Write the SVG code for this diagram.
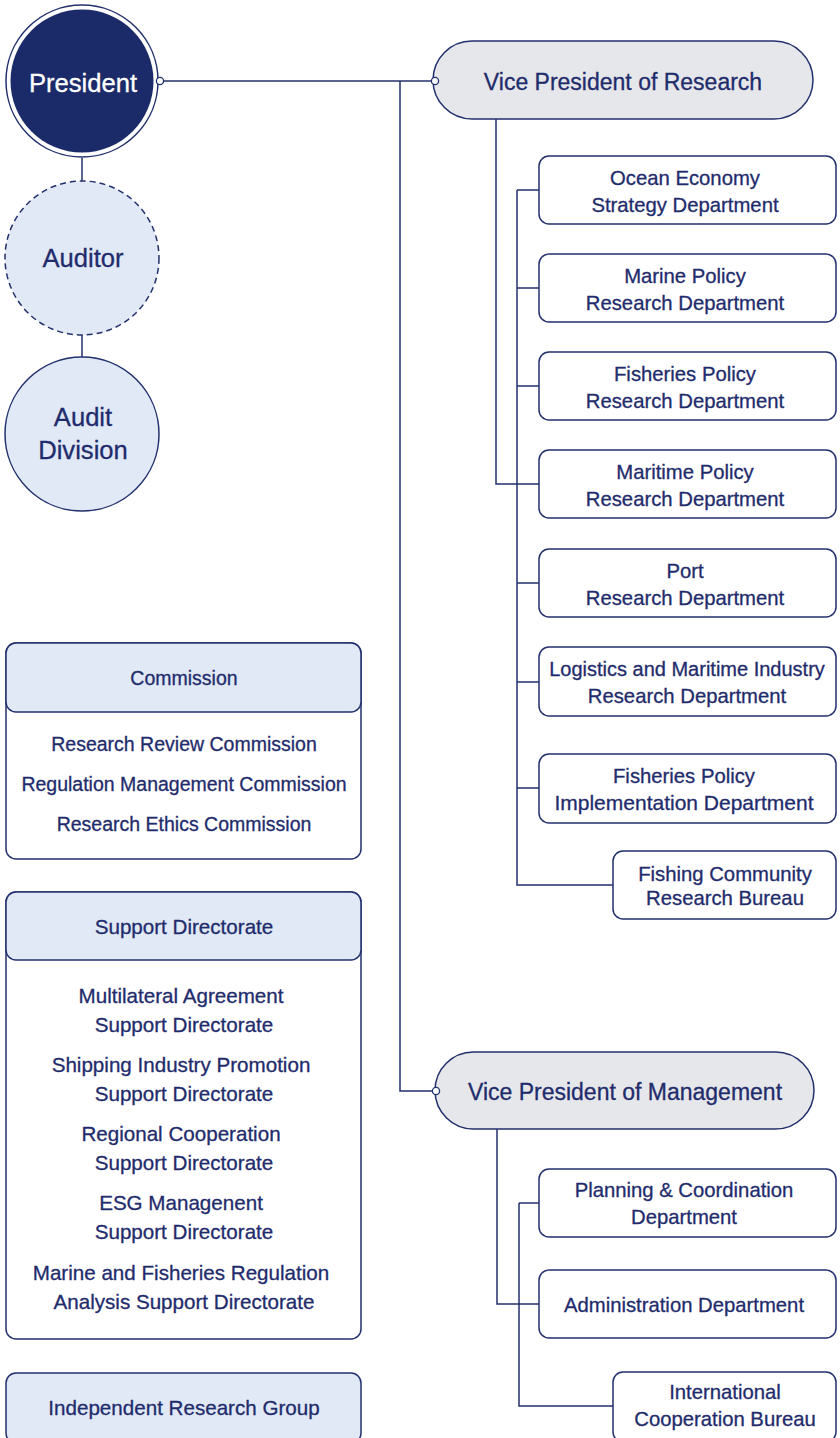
<svg xmlns="http://www.w3.org/2000/svg" width="840" height="1438" viewBox="0 0 840 1438">
<style>
.ln{fill:none;stroke:#22316d;stroke-width:1.5}
.dept{fill:#ffffff;stroke:#22316d;stroke-width:1.5}
.pill{fill:#e6e7ea;stroke:#22316d;stroke-width:1.5}
.lb{fill:#e1e9f6;stroke:#22316d;stroke-width:1.5}
.dot{fill:#ffffff;stroke:#22316d;stroke-width:1.3}
text{font-family:"Liberation Sans",Arial,sans-serif;fill:#1f2c6c;stroke:#1f2c6c;stroke-width:0.3;text-anchor:middle}
.t20{font-size:20.3px}
.t19{font-size:19.5px}
.t205{font-size:20.6px}
.t23{font-size:23px}
.t25{font-size:25.6px}
</style>
<rect width="840" height="1438" fill="#ffffff"/>
<g id="connectors">
<path class="ln" d="M163 81H432"/>
<path class="ln" d="M400 81V1091H432"/>
<path class="ln" d="M82 158V181"/>
<path class="ln" d="M82 334V357"/>
<path class="ln" d="M496 119V484H539"/>
<path class="ln" d="M517 190V885H613"/>
<path class="ln" d="M517 190H539M517 288H539M517 386H539M517 583H539M517 682H539M517 788H539"/>
<path class="ln" d="M497 1129V1304H539"/>
<path class="ln" d="M519 1203V1406H613"/>
<path class="ln" d="M519 1203H539"/>
</g>
<g id="president">
<circle cx="82" cy="81" r="76" fill="#ffffff" stroke="#22316d" stroke-width="1.5"/>
<circle cx="82" cy="81" r="71.5" fill="#1b2a68"/>
<text class="t25" x="83" y="92" style="fill:#ffffff;stroke:#ffffff">President</text>
<circle class="dot" cx="160" cy="81" r="3.6"/>
</g>
<g id="auditor">
<circle cx="82" cy="258" r="77" fill="#e1e9f6" stroke="#22316d" stroke-width="1.5" stroke-dasharray="6 4"/>
<text class="t25" x="83" y="267">Auditor</text>
</g>
<g id="audit-division">
<circle cx="82" cy="434" r="77" fill="#e1e9f6" stroke="#22316d" stroke-width="1.5"/>
<text class="t25" x="83" y="426">Audit</text>
<text class="t25" x="83" y="459">Division</text>
</g>
<g id="vp-research">
<rect class="pill" x="433" y="41" width="380" height="78" rx="39"/>
<text class="t23" x="623" y="90">Vice President of Research</text>
<circle class="dot" cx="435" cy="81" r="3.6"/>
</g>
<g id="ocean-economy">
<rect class="dept" x="539" y="156" width="297" height="68" rx="10"/>
<text class="t20" x="685" y="185">Ocean Economy</text>
<text class="t20" x="685" y="212">Strategy Department</text>
</g>
<g id="marine-policy">
<rect class="dept" x="539" y="254" width="297" height="68" rx="10"/>
<text class="t20" x="685" y="283">Marine Policy</text>
<text class="t20" x="685" y="310">Research Department</text>
</g>
<g id="fisheries-policy">
<rect class="dept" x="539" y="352" width="297" height="68" rx="10"/>
<text class="t20" x="685" y="381">Fisheries Policy</text>
<text class="t20" x="685" y="408">Research Department</text>
</g>
<g id="maritime-policy">
<rect class="dept" x="539" y="450" width="297" height="68" rx="10"/>
<text class="t20" x="685" y="479">Maritime Policy</text>
<text class="t20" x="685" y="506">Research Department</text>
</g>
<g id="port">
<rect class="dept" x="539" y="549" width="297" height="68" rx="10"/>
<text class="t20" x="685" y="578">Port</text>
<text class="t20" x="685" y="605">Research Department</text>
</g>
<g id="logistics">
<rect class="dept" x="539" y="647" width="297" height="69" rx="10"/>
<text class="t20" x="687" y="676" style="font-size:20px">Logistics and Maritime Industry</text>
<text class="t20" x="687" y="703">Research Department</text>
</g>
<g id="fisheries-implementation">
<rect class="dept" x="539" y="754" width="297" height="69" rx="10"/>
<text class="t20" x="684" y="783">Fisheries Policy</text>
<text class="t205" x="684" y="810" style="font-size:21px">Implementation Department</text>
</g>
<g id="fishing-community">
<rect class="dept" x="613" y="851" width="223" height="68" rx="10"/>
<text class="t20" x="725" y="881">Fishing Community</text>
<text class="t20" x="725" y="905">Research Bureau</text>
</g>
<g id="vp-management">
<rect class="pill" x="435" y="1052" width="379" height="77" rx="38.5"/>
<text class="t23" x="625" y="1100">Vice President of Management</text>
<circle class="dot" cx="436" cy="1091" r="3.6"/>
</g>
<g id="planning">
<rect class="dept" x="539" y="1169" width="297" height="68" rx="10"/>
<text class="t20" x="684" y="1197">Planning &amp; Coordination</text>
<text class="t20" x="684" y="1224">Department</text>
</g>
<g id="administration">
<rect class="dept" x="539" y="1270" width="297" height="68" rx="10"/>
<text class="t20" x="684" y="1312">Administration Department</text>
</g>
<g id="international">
<rect class="dept" x="613" y="1372" width="223" height="70" rx="10"/>
<text class="t20" x="725" y="1399">International</text>
<text class="t20" x="725" y="1426">Cooperation Bureau</text>
</g>
<g id="commission">
<rect class="dept" x="6" y="643" width="355" height="216" rx="10"/>
<rect class="lb" x="6" y="643" width="355" height="69" rx="10"/>
<text class="t19" x="184" y="685">Commission</text>
<text class="t19" x="184" y="751">Research Review Commission</text>
<text class="t19" x="184" y="791">Regulation Management Commission</text>
<text class="t19" x="184" y="831">Research Ethics Commission</text>
</g>
<g id="support-directorate">
<rect class="dept" x="6" y="892" width="355" height="447" rx="10"/>
<rect class="lb" x="6" y="892" width="355" height="68" rx="10"/>
<text class="t205" x="184" y="934">Support Directorate</text>
<text class="t205" x="181" y="1003">Multilateral Agreement</text>
<text class="t205" x="184" y="1032">Support Directorate</text>
<text class="t205" x="181" y="1072">Shipping Industry Promotion</text>
<text class="t205" x="184" y="1101">Support Directorate</text>
<text class="t205" x="181" y="1141">Regional Cooperation</text>
<text class="t205" x="184" y="1170">Support Directorate</text>
<text class="t205" x="181" y="1210">ESG Managenent</text>
<text class="t205" x="184" y="1239">Support Directorate</text>
<text class="t205" x="181" y="1280">Marine and Fisheries Regulation</text>
<text class="t205" x="184" y="1309">Analysis Support Directorate</text>
</g>
<g id="independent-research-group">
<rect class="lb" x="6" y="1373" width="355" height="70" rx="10"/>
<text class="t205" x="184" y="1415">Independent Research Group</text>
</g>
</svg>
